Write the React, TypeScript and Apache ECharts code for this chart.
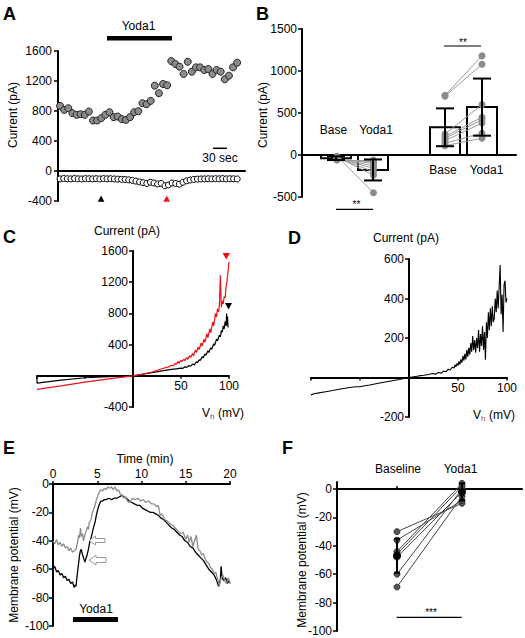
import React, { useEffect, useRef } from 'react';
import * as echarts from 'echarts';

const FONT = '"Liberation Sans", Arial, Helvetica, sans-serif';

// ---------- Panel A: current vs time (sweeps) ----------
const aOutward = [868, 815, 837, 771, 749, 757, 749, 793, 673, 673, 704, 749, 784, 718, 726, 691, 682, 718, 784, 797, 904, 890, 935, 1138, 1037, 1160, 1143, 1466, 1426, 1391, 1294, 1457, 1324, 1382, 1382, 1347, 1360, 1294, 1347, 1324, 1223, 1271, 1382, 1444];
const aInward = [-105, -100, -103, -105, -100, -104, -106, -101, -103, -105, -102, -106, -101, -104, -103, -106, -108, -111, -113,
  -118, -126, -135, -146, -156, -166, -150, -160, -173, -165, -197, -186, -160, -166, -176, -150, -131, -120, -112,
  -108, -106, -105, -103, -105, -102, -104, -101, -105, -103, -104, -106];

// ---------- Panel B: paired currents ----------
const bCenters = [34, 71, 143, 180];
const bMeans = [-38, -178, 330, 570];
const bErrors = [22, 125, 225, 340];
const bInBase = [-15, -25, -30, -35, -40, -45, -55, -60];
const bInYoda = [-450, -240, -200, -160, -130, -100, -80, -60];
const bOutBase = [710, 700, 250, 220, 200, 170, 140, 110];
const bOutYoda = [1180, 1080, 600, 450, 420, 380, 260, 200];
const bPointX = [35, 71.5, 143, 180];

// ---------- Panel C: I-V curves ----------
const cRed = [[-100, -175], [-75, -128], [-50, -82], [-25, -40], [0, 0], [10, 22], [20, 48], [30, 90], [35, 108], [38, 118], [40, 135], [42, 128], [44, 160], [45, 145], [47, 185], [48, 160], [50, 200], [51, 180], [53, 215], [54, 195], [56, 235], [57, 210], [59, 260], [60, 235], [62, 285], [63, 255], [65, 330], [66, 300], [68, 370], [69, 335], [71, 420], [72, 380], [74, 470], [75, 430], [77, 540], [78, 490], [80, 600], [81, 550], [83, 690], [84, 640], [86, 800], [87, 750], [88, 860], [89, 820], [90, 900], [91, 1290], [92, 880], [93, 960], [94, 920], [95, 1020], [96, 1000], [97, 1150], [98, 1220], [99, 1340], [100, 1460]];
const cBlack = [[-100, -10], [-100, -95], [-75, -55], [-50, -25], [-25, -12], [0, 0], [10, 20], [20, 40], [30, 62], [40, 82], [45, 90], [50, 98], [52, 96], [54, 115], [56, 108], [58, 130], [60, 125], [62, 150], [64, 140], [66, 180], [67, 170], [69, 205], [70, 195], [72, 245], [73, 230], [75, 280], [76, 265], [78, 320], [79, 300], [81, 360], [82, 340], [84, 410], [85, 390], [87, 470], [88, 450], [90, 520], [91, 500], [92, 580], [93, 560], [94, 640], [95, 600], [96, 700], [97, 640], [97.5, 800], [98, 650], [98.5, 760], [99, 620]];

// ---------- Panel D: I-V curve ----------
const dTrace = [[-100, -88], [-97, -82], [-92, -78], [-85, -72], [-78, -66], [-70, -58], [-62, -52], [-55, -47], [-50, -47], [-45, -42], [-40, -38], [-30, -28], [-20, -19], [-10, -10], [0, 0], [5, 4], [10, 8], [15, 11], [20, 15], [24, 20], [27, 17], [30, 25], [33, 22], [35, 32], [38, 30], [40, 42], [42, 38], [44, 52], [46, 48], [47, 64], [48, 55], [49, 72], [50, 60], [51, 82], [52, 66], [53, 92], [54, 75], [55, 110], [56, 85], [57, 120], [58, 92], [59, 140], [60, 105], [61, 150], [62, 115], [63, 175], [64, 130], [65, 210], [66, 140], [67, 190], [68, 125], [69, 200], [70, 150], [71, 240], [72, 130], [73, 220], [74, 160], [75, 260], [76, 140], [77, 230], [78, 90], [79, 280], [80, 200], [81, 330], [82, 240], [83, 350], [84, 260], [85, 360], [86, 280], [87, 300], [88, 400], [89, 330], [90, 440], [91, 350], [92, 460], [93, 570], [94, 320], [95, 420], [96, 230], [97, 470], [98, 490], [99, 380], [100, 400]];

// ---------- Panel E: membrane potential vs time ----------
const eGray = [[0, -40], [0.2, -42], [0.4, -39], [0.6, -43], [0.8, -41], [1, -44], [1.2, -42], [1.4, -45], [1.6, -44], [1.8, -47], [2, -45], [2.2, -48], [2.4, -47], [2.6, -46], [2.8, -40], [2.9, -36], [3.0, -38], [3.1, -31], [3.2, -37], [3.35, -35], [3.45, -40], [3.6, -36], [3.75, -33], [3.9, -30], [4.0, -32], [4.1, -27], [4.3, -25], [4.45, -20], [4.6, -18], [4.75, -15], [4.9, -11], [5.05, -9], [5.2, -6], [5.4, -4], [5.6, -5], [5.8, -3], [6.0, -4], [6.2, -2], [6.4, -3], [6.6, -2], [6.8, -4], [7.0, -2], [7.2, -5], [7.4, -4], [7.6, -7], [7.8, -8], [8.0, -10], [8.2, -9], [8.4, -12], [8.6, -13], [8.8, -12], [9.0, -10], [9.3, -11], [9.6, -10], [9.9, -12], [10.2, -11], [10.5, -13], [10.8, -12], [11.1, -14], [11.4, -14], [11.7, -16], [11.9, -15], [12.1, -22], [12.3, -21], [12.6, -25], [12.9, -26], [13.2, -28], [13.5, -29], [13.8, -31], [14.1, -33], [14.4, -35], [14.7, -34], [15.0, -39], [15.2, -36], [15.4, -41], [15.6, -37], [15.8, -44], [16.0, -40], [16.2, -36], [16.4, -46], [16.6, -47], [16.8, -50], [17.0, -49], [17.2, -53], [17.4, -55], [17.6, -56], [17.8, -59], [18.0, -60], [18.2, -63], [18.4, -62], [18.6, -67], [18.8, -72], [19.0, -66], [19.2, -64], [19.4, -68], [19.6, -70], [19.8, -66], [20, -70]];
const eBlack = [[0, -60], [0.2, -58], [0.4, -62], [0.6, -61], [0.8, -64], [1.0, -63], [1.2, -66], [1.4, -65], [1.6, -68], [1.8, -67], [2.0, -70], [2.2, -69], [2.4, -73], [2.5, -71], [2.6, -72], [2.7, -66], [2.85, -58], [3.0, -50], [3.1, -47], [3.2, -46], [3.3, -49], [3.45, -52], [3.6, -55], [3.7, -53], [3.85, -50], [4.0, -46], [4.15, -41], [4.3, -38], [4.45, -34], [4.6, -30], [4.75, -27], [4.9, -22], [5.05, -18], [5.2, -15], [5.4, -12], [5.6, -12], [5.8, -11], [6.0, -11], [6.3, -10], [6.6, -11], [6.9, -10], [7.2, -10], [7.5, -9], [7.8, -8], [8.0, -9], [8.3, -10], [8.6, -12], [8.9, -13], [9.2, -14], [9.5, -15], [9.8, -15], [10.1, -17], [10.4, -18], [10.7, -19], [11.0, -20], [11.3, -20], [11.6, -21], [11.9, -22], [12.2, -24], [12.5, -25], [12.8, -27], [13.1, -29], [13.4, -31], [13.7, -32], [14.0, -34], [14.3, -36], [14.6, -37], [14.9, -40], [15.2, -41], [15.5, -44], [15.8, -45], [16.1, -48], [16.4, -50], [16.7, -52], [17.0, -54], [17.3, -57], [17.6, -60], [17.9, -62], [18.2, -64], [18.5, -68], [18.7, -72], [18.9, -68], [19.0, -58], [19.1, -66], [19.3, -68], [19.5, -66], [19.7, -70], [19.9, -68], [20, -70]];

// ---------- Panel F: paired membrane potential ----------
const fBaseline = [-30, -36, -44, -46, -48, -60, -69];
const fYoda = [-10, -8, 4, 2, -2, 0, -5];
const fMeans = [-47, -2];
const fErrors = [12, 6];

const axisLineStyle = { color: '#000', width: 2 };
const tickStyle = { color: '#000', width: 1.5 };
const lbl = { color: '#000', fontSize: 12, fontFamily: FONT };

function txt(text: string, x: number, y: number, o: any = {}) {
  const align = o.align || 'center';
  return {
    type: 'text', x, y, rotation: o.rot || 0, z: 100,
    style: {
      text, fill: o.fill || '#000',
      font: `${o.bold ? 'bold ' : ''}${o.size || 12}px ${FONT}`,
      align, textAlign: align, verticalAlign: 'middle', textVerticalAlign: 'middle',
    },
  };
}
function seg(x1: number, y1: number, x2: number, y2: number, w = 1.2, c = '#000') {
  return { type: 'line', z: 100, shape: { x1, y1, x2, y2 }, style: { stroke: c, lineWidth: w } };
}
function tri(pts: number[][], c: string) {
  return { type: 'polygon', z: 100, shape: { points: pts }, style: { fill: c } };
}

function hiddenX(grid: number, min: number, max: number) {
  return {
    gridIndex: grid, type: 'value', min, max,
    axisLine: { show: true, onZero: true, lineStyle: axisLineStyle },
    axisTick: { show: false }, axisLabel: { show: false }, splitLine: { show: false },
  };
}
// I-V x axis: placed on the current = 0 line via offset
function ivX(grid: number, offset: number) {
  return {
    gridIndex: grid, type: 'value', min: -100, max: 100, interval: 50, offset,
    axisLine: { show: true, onZero: false, lineStyle: axisLineStyle },
    axisTick: { show: true, length: 3, lineStyle: tickStyle },
    axisLabel: { ...lbl, margin: 4, formatter: (v: number) => (v > 0 ? String(v) : '') },
    splitLine: { show: false },
  };
}
function yAx(grid: number, min: number, max: number, interval: number, margin: number, offset = 0, hideZero = false) {
  return {
    gridIndex: grid, type: 'value', min, max, interval, offset,
    axisLine: { show: true, onZero: false, lineStyle: axisLineStyle },
    axisTick: { show: true, length: 4, lineStyle: tickStyle },
    axisLabel: { ...lbl, margin, formatter: (v: number) => (hideZero && v === 0 ? '' : String(v)) },
    splitLine: { show: false },
  };
}

function errorBarSeries(xi: number, yi: number, data: number[][], cw: number, meanSize: number) {
  return {
    type: 'custom', xAxisIndex: xi, yAxisIndex: yi, data, z: 5,
    renderItem: (_p: any, api: any) => {
      const x = api.value(0), m = api.value(1), e = api.value(2);
      const top = api.coord([x, m + e]);
      const bot = api.coord([x, m - e]);
      const mid = api.coord([x, m]);
      const st = { stroke: '#000', lineWidth: 2 };
      const children: any[] = [
        { type: 'line', shape: { x1: top[0], y1: top[1], x2: bot[0], y2: bot[1] }, style: st },
        { type: 'line', shape: { x1: top[0] - cw, y1: top[1], x2: top[0] + cw, y2: top[1] }, style: st },
        { type: 'line', shape: { x1: bot[0] - cw, y1: bot[1], x2: bot[0] + cw, y2: bot[1] }, style: st },
      ];
      if (meanSize > 0) children.push({ type: 'circle', shape: { cx: mid[0], cy: mid[1], r: meanSize }, style: { fill: '#000' } });
      return { type: 'group', children };
    },
  };
}

export default function App() {
  const ref = useRef<HTMLDivElement>(null);
  useEffect(() => {
    const chart = echarts.init(ref.current!, null, { renderer: 'svg', width: 525, height: 638 });

    const bPairs = [
      ...bInBase.map((v, i) => ({ coords: [[bPointX[0], v], [bPointX[1], bInYoda[i]]] })),
      ...bOutBase.map((v, i) => ({ coords: [[bPointX[2], v], [bPointX[3], bOutYoda[i]]] })),
    ];
    const bPoints = [
      ...bInBase.map((v) => [bPointX[0], v]), ...bInYoda.map((v) => [bPointX[1], v]),
      ...bOutBase.map((v) => [bPointX[2], v]), ...bOutYoda.map((v) => [bPointX[3], v]),
    ];
    const fPairs = fBaseline.map((v, i) => ({ coords: [[0, v], [1, fYoda[i]]] }));
    const fPoints = [...fBaseline.map((v) => [0, v]), ...fYoda.map((v) => [1, v])];

    const option: any = {
      animation: false,
      backgroundColor: '#fff',
      textStyle: { fontFamily: FONT },
      grid: [
        { left: 58, top: 51, width: 187, height: 150 },
        { left: 302, top: 29, width: 214, height: 168 },
        { left: 37, top: 251, width: 192, height: 156 },
        { left: 311, top: 259, width: 196, height: 158 },
        { left: 53, top: 484, width: 177, height: 142 },
        { left: 337, top: 482, width: 185, height: 149 },
      ].map((g) => ({ ...g, containLabel: false, outerBoundsMode: 'none' })),
      xAxis: [
        hiddenX(0, -0.5, 44.9),
        hiddenX(1, 0, 214),
        ivX(2, -31.2),
        ivX(3, -39.5),
        {
          gridIndex: 4, type: 'value', position: 'top', min: 0, max: 20, interval: 5,
          axisLine: { show: true, onZero: false, lineStyle: axisLineStyle },
          axisTick: { show: true, length: 3, lineStyle: tickStyle },
          axisLabel: { ...lbl, margin: 4 }, splitLine: { show: false },
        },
        {
          gridIndex: 5, type: 'value', min: -0.923, max: 1.923, offset: -141.9,
          axisLine: { show: true, onZero: false, lineStyle: axisLineStyle },
          axisTick: { show: true, inside: true, length: 3, customValues: [0, 1], lineStyle: tickStyle },
          axisLabel: { show: false }, splitLine: { show: false },
        },
      ],
      yAxis: [
        yAx(0, -400, 1600, 400, 6),
        yAx(1, -500, 1500, 500, 5),
        yAx(2, -400, 1600, 400, 5, -96, true),
        yAx(3, -200, 600, 200, 5, -98, true),
        yAx(4, -100, 0, 20, 4),
        {
          gridIndex: 5, type: 'value', min: -100, max: 5,
          axisLine: { show: true, onZero: false, lineStyle: axisLineStyle },
          axisTick: { show: true, length: 4, lineStyle: tickStyle, customValues: [-100, -80, -60, -40, -20, 0] },
          axisLabel: { ...lbl, margin: 5, customValues: [-100, -80, -60, -40, -20, 0] },
          splitLine: { show: false },
        },
      ],
      series: [
        // A
        {
          type: 'scatter', xAxisIndex: 0, yAxisIndex: 0, symbolSize: 7,
          data: aOutward.map((v, i) => [i, v]),
          itemStyle: { color: '#8c8c8c', borderColor: '#222', borderWidth: 1, opacity: 1 },
        },
        {
          type: 'scatter', xAxisIndex: 0, yAxisIndex: 0, symbolSize: 6,
          data: aInward.map((v, i) => [(i * 43) / 49, v]),
          itemStyle: { color: '#fff', borderColor: '#000', borderWidth: 1, opacity: 1 },
        },
        // B bars
        {
          type: 'custom', xAxisIndex: 1, yAxisIndex: 1,
          data: bCenters.map((x, i) => [x, bMeans[i]]),
          renderItem: (_p: any, api: any) => {
            const x = api.value(0), m = api.value(1);
            const p0 = api.coord([x, 0]);
            const p1 = api.coord([x, m]);
            return {
              type: 'rect',
              shape: { x: p0[0] - 15, y: Math.min(p0[1], p1[1]), width: 30, height: Math.abs(p1[1] - p0[1]) },
              style: { fill: '#fff', stroke: '#000', lineWidth: 2 },
            };
          },
        },
        {
          type: 'lines', coordinateSystem: 'cartesian2d', xAxisIndex: 1, yAxisIndex: 1,
          data: bPairs, lineStyle: { color: '#9a9a9a', width: 1, opacity: 1, curveness: 0 }, silent: true,
        },
        {
          type: 'scatter', xAxisIndex: 1, yAxisIndex: 1, symbolSize: 7, data: bPoints,
          itemStyle: { color: '#8c8c8c', opacity: 1 },
        },
        errorBarSeries(1, 1, bCenters.map((x, i) => [x, bMeans[i], bErrors[i]]), 9, 0),
        // C
        { type: 'line', xAxisIndex: 2, yAxisIndex: 2, data: cBlack, showSymbol: false, symbol: 'none', lineStyle: { color: '#000', width: 1.2 } },
        { type: 'line', xAxisIndex: 2, yAxisIndex: 2, data: cRed, showSymbol: false, symbol: 'none', lineStyle: { color: '#e8141b', width: 1.2 } },
        // D
        { type: 'line', xAxisIndex: 3, yAxisIndex: 3, data: dTrace, showSymbol: false, symbol: 'none', lineStyle: { color: '#000', width: 1.1 } },
        // E
        { type: 'line', xAxisIndex: 4, yAxisIndex: 4, data: eBlack, showSymbol: false, symbol: 'none', lineStyle: { color: '#000', width: 1.3 } },
        { type: 'line', xAxisIndex: 4, yAxisIndex: 4, data: eGray, showSymbol: false, symbol: 'none', lineStyle: { color: '#8c8c8c', width: 1.3 } },
        // F
        {
          type: 'lines', coordinateSystem: 'cartesian2d', xAxisIndex: 5, yAxisIndex: 5,
          data: fPairs, lineStyle: { color: '#444', width: 1, opacity: 1, curveness: 0 }, silent: true,
        },
        {
          type: 'scatter', xAxisIndex: 5, yAxisIndex: 5, symbolSize: 6, data: fPoints,
          itemStyle: { color: '#555', borderColor: '#222', borderWidth: 0.8, opacity: 1 },
        },
        errorBarSeries(5, 5, [[0, fMeans[0], fErrors[0]], [1, fMeans[1], fErrors[1]]], 3, 4),
      ],
      graphic: [
        // panel letters
        txt('A', 3, 13.5, { bold: true, size: 18, align: 'left' }),
        txt('B', 256, 13.5, { bold: true, size: 18, align: 'left' }),
        txt('C', 3, 237, { bold: true, size: 18, align: 'left' }),
        txt('D', 288, 237.5, { bold: true, size: 18, align: 'left' }),
        txt('E', 3, 447.5, { bold: true, size: 18, align: 'left' }),
        txt('F', 282, 447.5, { bold: true, size: 18, align: 'left' }),
        // A annotations
        txt('Yoda1', 138.5, 26),
        { type: 'rect', z: 100, shape: { x: 107, y: 36, width: 65, height: 4.5 }, style: { fill: '#000' } },
        seg(213, 148.3, 227, 148.3, 1.5),
        txt('30 sec', 220, 158),
        txt('Current (pA)', 12.5, 115, { rot: Math.PI / 2 }),
        tri([[97.8, 201.8], [104.4, 201.8], [101.1, 195.6]], '#000'),
        tri([[163.4, 201.8], [170, 201.8], [166.7, 195.6]], '#ee1111'),
        // B annotations
        txt('Current (pA)', 263, 115, { rot: Math.PI / 2 }),
        txt('Base', 333.5, 130),
        txt('Yoda1', 376, 130),
        txt('Base', 443, 170),
        txt('Yoda1', 486.5, 170),
        txt('**', 356.5, 204, { size: 10 }),
        seg(336, 209.3, 373, 209.3, 1.2),
        txt('**', 463, 42, { size: 10 }),
        seg(444, 46, 481, 46, 1.2),
        // C annotations
        txt('Current (pA)', 127, 230.5),
        txt('V', 202, 413, { align: 'left' }),
        txt('h', 210, 416, { align: 'left', size: 8, fill: '#3355bb' }),
        txt('(mV)', 218, 413, { align: 'left' }),
        tri([[222.6, 253], [230, 253], [226.3, 259.5]], '#ee1111'),
        tri([[225, 303], [232, 303], [228.5, 309.5]], '#000'),
        // D annotations
        txt('Current (pA)', 406, 238),
        txt('V', 473, 415, { align: 'left' }),
        txt('h', 481, 418, { align: 'left', size: 8, fill: '#aa4422' }),
        txt('(mV)', 489, 415, { align: 'left' }),
        // E annotations
        txt('Time (min)', 145, 459),
        txt('Membrane potential (mV)', 14, 555, { rot: Math.PI / 2 }),
        txt('Yoda1', 96, 609),
        { type: 'rect', z: 100, shape: { x: 73, y: 617, width: 45, height: 5 }, style: { fill: '#000' } },
        {
          type: 'polygon', z: 100,
          shape: { points: [[89.5, 540.5], [95.5, 536], [95.5, 538.5], [105, 538.5], [105, 542.5], [95.5, 542.5], [95.5, 545]] },
          style: { fill: '#fff', stroke: '#999', lineWidth: 1 },
        },
        {
          type: 'polygon', z: 100,
          shape: { points: [[89, 560], [96, 555.3], [96, 557.5], [106, 557.5], [106, 562.5], [96, 562.5], [96, 565]] },
          style: { fill: '#fff', stroke: '#999', lineWidth: 1 },
        },
        // F annotations
        txt('Membrane potential (mV)', 302, 560, { rot: Math.PI / 2 }),
        txt('Baseline', 398, 469),
        txt('Yoda1', 460.5, 469),
        txt('***', 431, 612, { size: 10 }),
        seg(396.7, 617.3, 461.7, 617.3, 1.2),
      ],
    };
    chart.setOption(option);
    return () => chart.dispose();
  }, []);
  return (
    <div
      ref={ref}
      style={{ position: 'fixed', left: 0, top: 0, width: 525, height: 638, background: '#fff' }}
    />
  );
}
